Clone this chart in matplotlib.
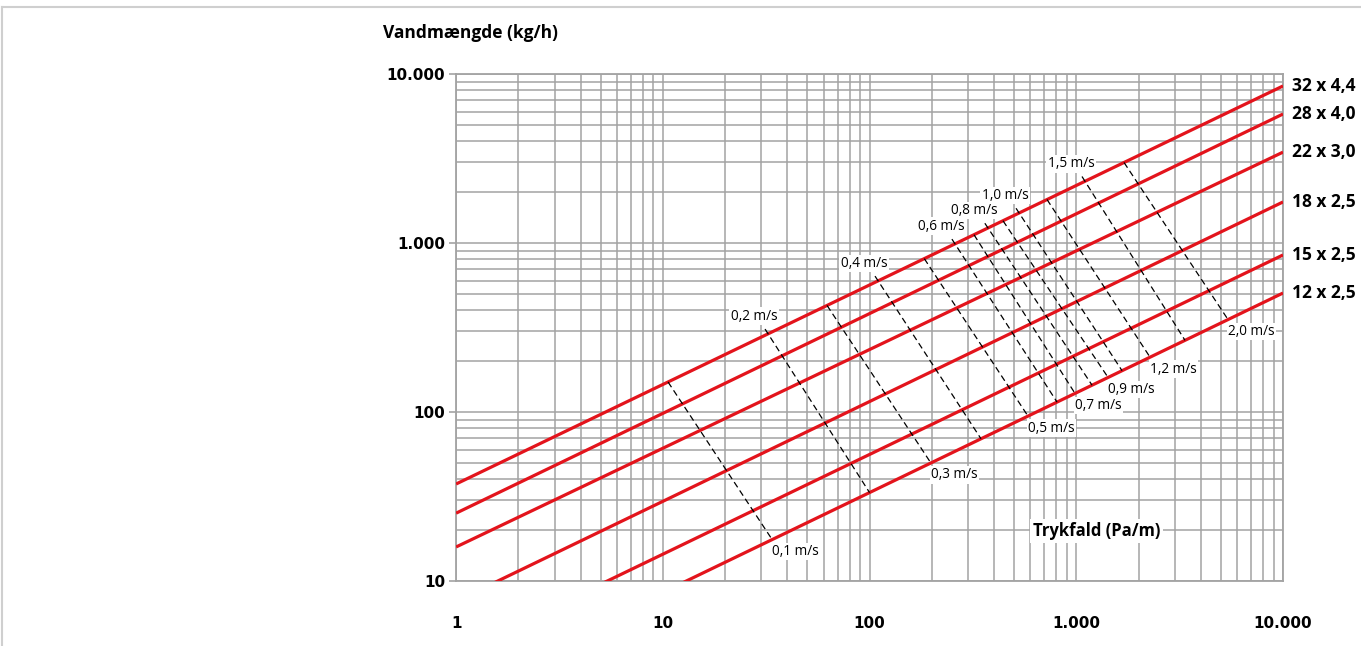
import matplotlib.pyplot as plt
import numpy as np

# rørdimensioner og vandmængde (kg/h) ved trykfald 1 og 10.000 Pa/m
pipes = ["32 x 4,4", "28 x 4,0", "22 x 3,0", "18 x 2,5", "15 x 2,5", "12 x 2,5"]
flow_at_1 = [37.5, 25.2, 15.9, 7.6, 3.7, 2.2]
flow_at_10000 = [8500, 5800, 3450, 1750, 850, 506]

# hastighedslinjer: trykfald hvor linjen rammer største og mindste rør
velocities = ["0,1", "0,2", "0,3", "0,4", "0,5", "0,6", "0,7",
              "0,8", "0,9", "1,0", "1,2", "1,5", "2,0"]
dp_top = [10.6, 32.3, 62.3, 110, 184, 259, 320, 374, 442, 529, 722, 1102, 1702]
dp_bottom = [33.8, 100, 198, 346, 584, 807, 986, 1192, 1425, 1665, 2274, 3357, 5420]
label_on_top = [False, True, False, True, False, True, False,
                True, False, True, False, True, False]

x_ticks = [1, 10, 100, 1000, 10000]
x_labels = ["1", "10", "100", "1.000", "10.000"]
y_ticks = [10, 100, 1000, 10000]
y_labels = ["10", "100", "1.000", "10.000"]

RED = "#e3141c"
GRID = "#a3a3a3"
plt.rcParams['font.family'] = ['Open Sans', 'DejaVu Sans']


def flow(i, dp):
    slope = np.log10(flow_at_10000[i] / flow_at_1[i]) / 4
    return flow_at_1[i] * np.asarray(dp, dtype=float) ** slope


fig = plt.figure(figsize=(13.61, 6.46), dpi=100)
ax = fig.add_axes([0.3351, 0.1006, 0.6076, 0.7848])
ax.set_xscale("log")
ax.set_yscale("log")
ax.set_xlim(1, 10000)
ax.set_ylim(10, 10000)

ax.grid(True, which="both", color=GRID, lw=1.1)
ax.set_axisbelow(True)
for s in ax.spines.values():
    s.set_color(GRID)
    s.set_linewidth(1.3)

# rørlinjer
for i, name in enumerate(pipes):
    ax.plot([1, 10000], [flow_at_1[i], flow_at_10000[i]], color=RED, lw=2.3,
            solid_capstyle="butt", zorder=3, clip_on=True)
    ax.annotate(name, (10000, flow_at_10000[i]), xytext=(9, 0),
                textcoords="offset pixels", ha="left", va="center",
                fontsize=12.5, fontweight="bold", annotation_clip=False)

# hastighedslinjer
top = 0
bot = len(pipes) - 1
for k, v in enumerate(velocities):
    x0, x1 = dp_top[k], dp_bottom[k]
    y0, y1 = float(flow(top, x0)), float(flow(bot, x1))
    if label_on_top[k]:
        # lille forlængelse over øverste rør
        lx0, ly0 = np.log10(x0), np.log10(y0)
        lx1, ly1 = np.log10(x1), np.log10(y1)
        x0s = 10 ** (lx0 - 0.03 * (lx1 - lx0))
        y0s = 10 ** (ly0 - 0.03 * (ly1 - ly0))
    else:
        x0s, y0s = x0, y0
    ax.plot([x0s, x1], [y0s, y1], color="black", lw=0.9, dashes=(5, 3), zorder=4)
    txt = v + " m/s"
    if label_on_top[k]:
        ax.annotate(txt, (x0, y0), xytext=(-14, 10), textcoords="offset pixels",
                    ha="center", va="bottom", fontsize=9.8, zorder=5,
                    bbox=dict(facecolor="white", edgecolor="none", pad=1))
    else:
        ax.annotate(txt, (x1, y1), xytext=(0, -12), textcoords="offset pixels",
                    ha="left", va="center", fontsize=9.8, zorder=5,
                    bbox=dict(facecolor="white", edgecolor="none", pad=1))

ax.set_xticks(x_ticks)
ax.set_xticklabels(x_labels)
ax.set_yticks(y_ticks)
ax.set_yticklabels(y_labels)
ax.tick_params(axis="x", which="both", length=0, pad=25, labelsize=11)
ax.tick_params(axis="y", which="major", length=5, width=1.2, color=GRID, pad=3, labelsize=11)
ax.tick_params(axis="y", which="minor", length=0)
for lab in ax.get_xticklabels() + ax.get_yticklabels():
    lab.set_fontweight("bold")
    lab.set_family("DejaVu Sans")

ax.text(0.775, 0.0986, "Trykfald (Pa/m)", transform=ax.transAxes, ha="center",
        va="center", fontsize=12, fontweight="bold", zorder=6,
        bbox=dict(facecolor="white", edgecolor="none", pad=2))
fig.text(383 / 1361, 1 - 33 / 646, "Vandmængde (kg/h)", ha="left", va="center",
         fontsize=12.5, fontweight="bold")

# tynd ramme øverst og til venstre
fig.add_artist(plt.Line2D([2 / 1361, 1], [1 - 7 / 646, 1 - 7 / 646], color="#cfcfcf", lw=1.5))
fig.add_artist(plt.Line2D([2 / 1361, 2 / 1361], [0, 1 - 7 / 646], color="#cfcfcf", lw=1.5))

plt.savefig("out.png", dpi=100)
